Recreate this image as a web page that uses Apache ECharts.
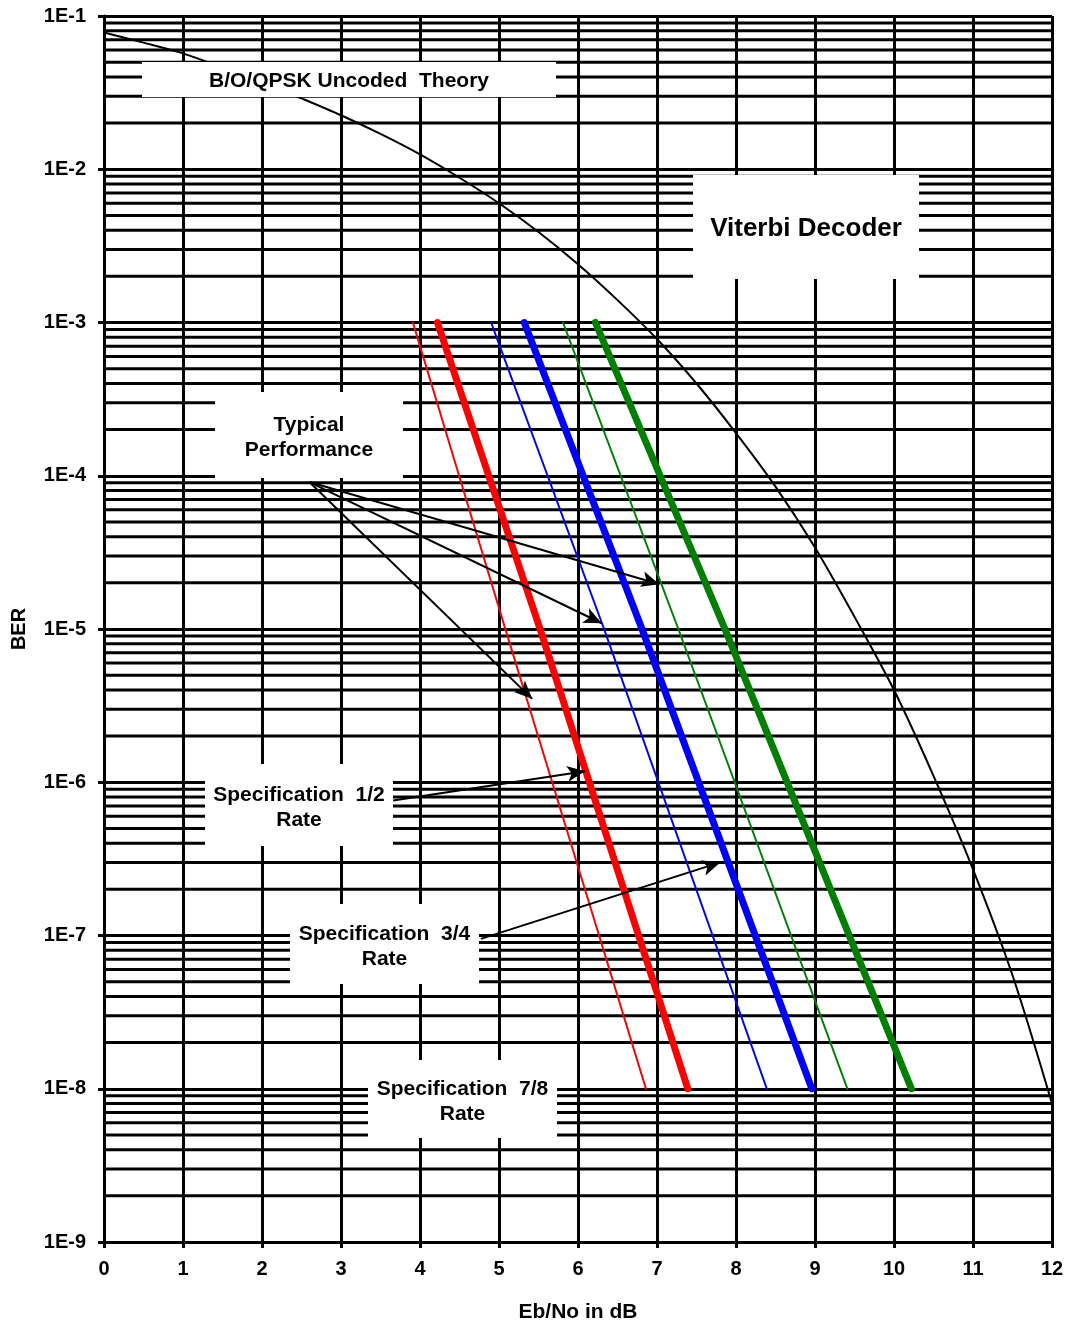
<!DOCTYPE html>
<html>
<head>
<meta charset="utf-8">
<script src="https://cdn.jsdelivr.net/npm/echarts@6/dist/echarts.min.js"></script>
<style>
html,body{margin:0;padding:0;background:#fff;}
#chart{width:1069px;height:1328px;}
</style>
</head>
<body>
<div id="chart"></div>
<script>
// ---- data ----
const uncodedEbNo = [0,0.5,1,1.5,2,2.5,3,3.5,4,4.5,5,5.5,6,6.5,7,7.5,8,8.5,9,9.5,10,10.5,11,11.5,12];
const uncodedBER  = [7.8e-2,6.7e-2,5.7e-2,4.6e-2,3.7e-2,2.9e-2,2.25e-2,1.7e-2,1.25e-2,8.8e-3,6.0e-3,3.9e-3,2.4e-3,1.4e-3,7.8e-4,4.0e-4,1.9e-4,8.5e-5,3.4e-5,1.2e-5,4.0e-6,1.1e-6,2.7e-7,5.5e-8,8e-9];

const codedBER     = [1e-3, 1e-5, 1e-8];
const typicalHalf  = [3.91, 5.08, 6.86];
const specHalf     = [4.22, 5.52, 7.39];
const typical34    = [4.90, 6.33, 8.39];
const spec34       = [5.32, 6.81, 8.96];
const typical78    = [5.81, 7.27, 9.41];
const spec78       = [6.22, 7.86, 10.22];

const xTicks = [0,1,2,3,4,5,6,7,8,9,10,11,12];
const yDecades = [-9,-8,-7,-6,-5,-4,-3,-2,-1];
const yMantissas = [2,3,4,5,6,7,8,9];

// annotation arrows: [fromEbNo, fromBER, toEbNo, toBER]
const arrowTypical1 = [2.60, 9.1e-5, 7.03, 1.96e-5];
const arrowTypical2 = [2.60, 9.1e-5, 6.30, 1.09e-5];
const arrowTypical3 = [2.60, 9.1e-5, 5.42, 3.5e-6];
const arrowSpecHalf = [3.66, 7.6e-7, 6.09, 1.18e-6];
const arrowSpec34   = [4.77, 9.5e-8, 7.80, 3.0e-7];

// ---- build ----
const FONT = '"Liberation Sans", Arial, sans-serif';
function pairs(xs, ys){ return xs.map((x,i)=>[x, ys[i]]); }

const minorValues = [];
yDecades.forEach(d => { if (d < -1) yMantissas.forEach(m => minorValues.push(m * Math.pow(10, d))); });

const gridSeries = minorValues.map(v => ({
  type: 'line', data: [[xTicks[0], v], [xTicks[xTicks.length-1], v]],
  showSymbol: false, symbol: 'none', silent: true, z: 1,
  lineStyle: {color: '#000', width: 3}
}));

function arrow(a){ return [{coord:[a[0],a[1]]},{coord:[a[2],a[3]]}]; }

function lineSeries(name, xs, color, width){
  return {
    name: name, type: 'line', data: pairs(xs, codedBER), showSymbol: false, symbol: 'none',
    lineStyle: {color: color, width: width, cap: 'round'}, z: 3, silent: true
  };
}

const chart = echarts.init(document.getElementById('chart'), null, {renderer: 'canvas'});

function box(x, y, w, h, text, size, cy, lineH){
  return {
    type: 'group', z: 100,
    children: [
      {type: 'rect', shape: {x: x, y: y, width: w, height: h}, style: {fill: '#fff'}, z: 100},
      {type: 'text', z: 101, style: {
        text: text, x: x + w/2, y: cy,
        fill: '#000', font: 'bold ' + size + 'px ' + FONT,
        textAlign: 'center', textVerticalAlign: 'middle',
        align: 'center', verticalAlign: 'middle', lineHeight: lineH || size + 5
      }}
    ]
  };
}

const option = {
  animation: false,
  backgroundColor: '#fff',
  grid: {left: 104, right: 17, top: 16, bottom: 80, containLabel: false},
  xAxis: {
    type: 'value', min: 0, max: 12, interval: 1,
    name: 'Eb/No in dB', nameLocation: 'middle', nameGap: 60,
    nameTextStyle: {fontFamily: FONT, fontWeight: 'bold', fontSize: 21, color: '#000'},
    axisLine: {show: true, onZero: false, lineStyle: {color: '#000', width: 3}},
    axisTick: {show: true, length: 6, lineStyle: {color: '#000', width: 3}},
    axisLabel: {margin: 17, fontFamily: FONT, fontWeight: 'bold', fontSize: 20, color: '#000'},
    splitLine: {show: true, lineStyle: {color: '#000', width: 3}}
  },
  yAxis: {
    type: 'log', logBase: 10, min: 1e-9, max: 1e-1, interval: 1,
    name: 'BER', nameLocation: 'middle', nameGap: 75, nameRotate: 90,
    nameTextStyle: {fontFamily: FONT, fontWeight: 'bold', fontSize: 20, color: '#000'},
    axisLine: {show: true, lineStyle: {color: '#000', width: 3}},
    axisTick: {show: true, length: 6, lineStyle: {color: '#000', width: 3}},
    axisLabel: {
      margin: 18, fontFamily: FONT, fontWeight: 'bold', fontSize: 20, color: '#000',
      formatter: v => '1E' + Math.round(Math.log10(v))
    },
    splitLine: {show: true, lineStyle: {color: '#000', width: 3}}
  },
  series: gridSeries.concat([
    {
      name: 'B/O/QPSK Uncoded Theory', type: 'line', data: pairs(uncodedEbNo, uncodedBER),
      showSymbol: false, symbol: 'none', smooth: 0.3,
      lineStyle: {color: '#000', width: 2}, z: 3, silent: true
    },
    lineSeries('Typical 1/2', typicalHalf, '#FF0000', 2),
    lineSeries('Specification 1/2', specHalf, '#FF0000', 7),
    lineSeries('Typical 3/4', typical34, '#0000FF', 2),
    lineSeries('Specification 3/4', spec34, '#0000FF', 7),
    lineSeries('Typical 7/8', typical78, '#008000', 2),
    lineSeries('Specification 7/8', spec78, '#008000', 7),
    {
      name: 'arrows', type: 'line', data: [], z: 4, silent: true,
      markLine: {
        silent: true, symbol: ['none','arrow'], symbolSize: [12, 18], animation: false,
        label: {show: false},
        lineStyle: {color: '#000', width: 2, type: 'solid'},
        itemStyle: {color: '#000'},
        emphasis: {disabled: true},
        data: [arrow(arrowTypical1), arrow(arrowTypical2), arrow(arrowTypical3), arrow(arrowSpecHalf), arrow(arrowSpec34)]
      }
    }
  ]),
  graphic: {
    elements: [
      box(142, 62, 414, 35, 'B/O/QPSK Uncoded  Theory', 21, 81),
      box(693, 175, 226, 104, 'Viterbi Decoder', 26, 229),
      box(215, 392, 188, 86, 'Typical\nPerformance', 21, 438, 25),
      box(205, 764, 188, 82, 'Specification  1/2\nRate', 21, 808, 25),
      box(290, 904, 189, 80, 'Specification  3/4\nRate', 21, 947, 25),
      box(368, 1060, 189, 78, 'Specification  7/8\nRate', 21, 1102, 25)
    ]
  }
};
chart.setOption(option);
</script>
</body>
</html>
